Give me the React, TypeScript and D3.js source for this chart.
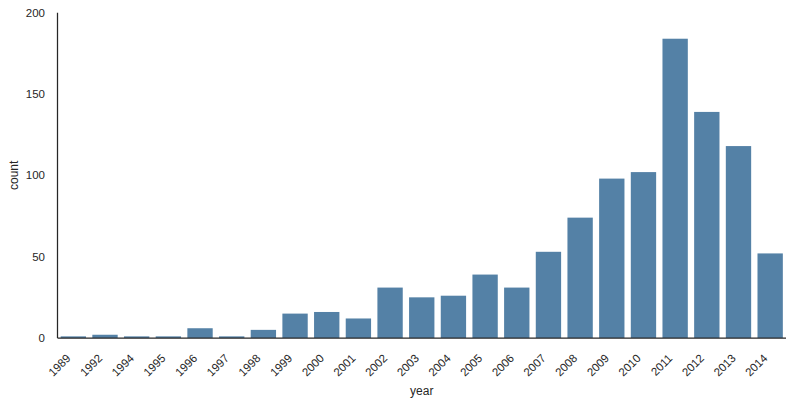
import React from "react";
import * as d3 from "d3";

const years = ["1989","1992","1994","1995","1996","1997","1998","1999","2000","2001","2002","2003","2004","2005","2006","2007","2008","2009","2010","2011","2012","2013","2014"];
const counts = [1,2,1,1,6,1,5,15,16,12,31,25,26,39,31,53,74,98,102,184,139,118,52];
const yTicks = [0,50,100,150,200];

const W = 804, H = 402;
const left = 57.5, right = 786, top = 12.7, bottom = 338;
const ink = "#262626";
const font = "'Liberation Sans', Arial, sans-serif";

export default function App() {
  const x = d3.scaleBand<string>().domain(years).range([left, right]).paddingInner(0.2).paddingOuter(0.1);
  const y = d3.scaleLinear().domain([0, 200]).range([bottom, top]);
  return (
    <svg width={W} height={H} style={{ position: "absolute", left: 0, top: 0 }} fontFamily={font}>
      <rect width={W} height={H} fill="#fff" />
      {years.map((yr, i) => (
        <rect key={yr} x={x(yr)} y={y(counts[i])} width={x.bandwidth()} height={y(0) - y(counts[i])} fill="rgb(84,129,166)" />
      ))}
      <line x1={left} x2={left} y1={top} y2={bottom} stroke={ink} strokeWidth={1.25} />
      <line x1={left} x2={right} y1={bottom} y2={bottom} stroke={ink} strokeWidth={1.25} />
      {yTicks.map((t) => (
        <text key={t} x={45} y={y(t)} dy="0.35em" textAnchor="end" fontSize={11.5} fill={ink}>{t}</text>
      ))}
      {years.map((yr) => {
        const cx = (x(yr) as number) + x.bandwidth() / 2;
        return (
          <text key={yr} transform={`translate(${cx - 2},${bottom + 21}) rotate(-45)`} textAnchor="end" fontSize={11.5} fill={ink}>{yr}</text>
        );
      })}
      <text x={(left + right) / 2} y={395} textAnchor="middle" fontSize={12} fill={ink}>year</text>
      <text transform={`translate(18,${(top + bottom) / 2}) rotate(-90)`} textAnchor="middle" fontSize={12} fill={ink}>count</text>
    </svg>
  );
}
